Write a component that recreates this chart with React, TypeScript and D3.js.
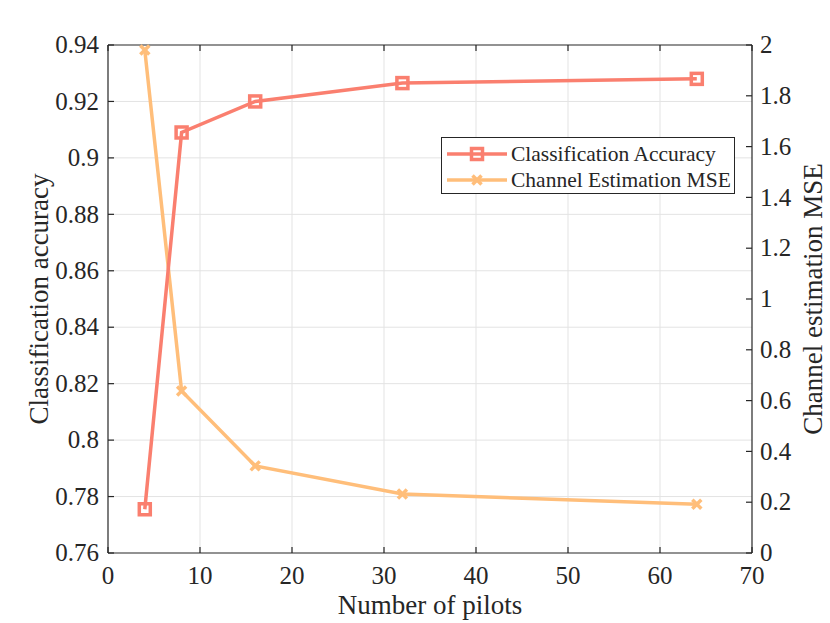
import * as d3 from "d3";

const pilots = [4, 8, 16, 32, 64];
const accuracy = [0.7755, 0.909, 0.92, 0.9265, 0.928];
const mse = [1.98, 0.638, 0.343, 0.232, 0.192];

const xTicks = [0, 10, 20, 30, 40, 50, 60, 70];
const leftTicks = [0.76, 0.78, 0.8, 0.82, 0.84, 0.86, 0.88, 0.9, 0.92, 0.94];
const rightTicks = [0, 0.2, 0.4, 0.6, 0.8, 1, 1.2, 1.4, 1.6, 1.8, 2];

const accColor = "#FA7F6F";
const mseColor = "#FFBE7A";
const axisColor = "#262626";
const font = "'Liberation Serif', 'Times New Roman', serif";

export default function App() {
  const width = 830;
  const height = 623;
  const marginLeft = 108;
  const marginRight = 78;
  const marginTop = 45;
  const marginBottom = 70;

  const x = d3.scaleLinear([0, 70], [marginLeft, width - marginRight]);
  const yL = d3.scaleLinear([0.76, 0.94], [height - marginBottom, marginTop]);
  const yR = d3.scaleLinear([0, 2], [height - marginBottom, marginTop]);

  const x0 = x(0);
  const x1 = x(70);
  const y0 = yL(0.76);
  const y1 = yL(0.94);

  const accLine = d3
    .line<number>()
    .x((_, i) => x(pilots[i]))
    .y((d) => yL(d));
  const mseLine = d3
    .line<number>()
    .x((_, i) => x(pilots[i]))
    .y((d) => yR(d));

  const tick = 6;
  const fmt = (v: number) => String(+v.toFixed(2));

  return (
    <svg
      width={width}
      height={height}
      style={{ position: "absolute", left: 0, top: 0, display: "block" }}
    >
      <rect width={width} height={height} fill="white" />
      {/* grid */}
      <g stroke="#e3e3e3" strokeWidth={1}>
        {xTicks.slice(1, -1).map((t) => (
          <line key={"gx" + t} x1={x(t)} x2={x(t)} y1={y0} y2={y1} />
        ))}
        {leftTicks.slice(1, -1).map((t) => (
          <line key={"gy" + t} x1={x0} x2={x1} y1={yL(t)} y2={yL(t)} />
        ))}
      </g>

      {/* axes box */}
      <g stroke={axisColor} strokeWidth={1.2} fill="none">
        <line x1={x0} x2={x1} y1={y0} y2={y0} />
        <line x1={x0} x2={x1} y1={y1} y2={y1} />
        <line x1={x0} x2={x0} y1={y0} y2={y1} />
        <line x1={x1} x2={x1} y1={y0} y2={y1} />
        {xTicks.map((t) => (
          <g key={"xt" + t}>
            <line x1={x(t)} x2={x(t)} y1={y0} y2={y0 - tick} />
            <line x1={x(t)} x2={x(t)} y1={y1} y2={y1 + tick} />
          </g>
        ))}
        {leftTicks.map((t) => (
          <line key={"lt" + t} x1={x0} x2={x0 + tick} y1={yL(t)} y2={yL(t)} />
        ))}
        {rightTicks.map((t) => (
          <line key={"rt" + t} x1={x1} x2={x1 - tick} y1={yR(t)} y2={yR(t)} />
        ))}
      </g>

      <g fontFamily={font} fontSize={25} fill={axisColor}>
        {xTicks.map((t) => (
          <text key={"xl" + t} x={x(t)} y={y0 + 31} textAnchor="middle">
            {t}
          </text>
        ))}
        {leftTicks.map((t) => (
          <text key={"ll" + t} x={x0 - 9} y={yL(t)} dy="0.33em" textAnchor="end">
            {fmt(t)}
          </text>
        ))}
        {rightTicks.map((t) => (
          <text key={"rl" + t} x={x1 + 8} y={yR(t)} dy="0.33em" textAnchor="start">
            {fmt(t)}
          </text>
        ))}
      </g>

      <g fontFamily={font} fontSize={27} fill={axisColor}>
        <text x={(x0 + x1) / 2} y={614} textAnchor="middle">
          Number of pilots
        </text>
        <text
          transform={`translate(48,${(y0 + y1) / 2}) rotate(-90)`}
          textAnchor="middle"
        >
          Classification accuracy
        </text>
        <text
          transform={`translate(822,${(y0 + y1) / 2}) rotate(-90)`}
          textAnchor="middle"
        >
          Channel estimation MSE
        </text>
      </g>

      {/* series */}
      <path d={mseLine(mse) ?? ""} fill="none" stroke={mseColor} strokeWidth={3.5} />
      {mse.map((d, i) => (
        <g key={"mm" + i} transform={`translate(${x(pilots[i])},${yR(d)})`} stroke={mseColor} strokeWidth={3.5}>
          <line x1={-4.5} y1={-4.5} x2={4.5} y2={4.5} />
          <line x1={-4.5} y1={4.5} x2={4.5} y2={-4.5} />
        </g>
      ))}
      <path d={accLine(accuracy) ?? ""} fill="none" stroke={accColor} strokeWidth={3.5} />
      {accuracy.map((d, i) => (
        <rect
          key={"am" + i}
          x={x(pilots[i]) - 5.5}
          y={yL(d) - 5.5}
          width={11}
          height={11}
          fill="none"
          stroke={accColor}
          strokeWidth={3.5}
        />
      ))}

      {/* legend */}
      <g>
        <rect x={441.5} y={137.5} width={293} height={56} fill="white" stroke={axisColor} strokeWidth={1} />
        <line x1={447} x2={507} y1={154} y2={154} stroke={accColor} strokeWidth={3.5} />
        <rect x={471.5} y={148.5} width={11} height={11} fill="none" stroke={accColor} strokeWidth={3.5} />
        <line x1={447} x2={507} y1={180} y2={180} stroke={mseColor} strokeWidth={3.5} />
        <g transform="translate(477,180)" stroke={mseColor} strokeWidth={3.5}>
          <line x1={-4.5} y1={-4.5} x2={4.5} y2={4.5} />
          <line x1={-4.5} y1={4.5} x2={4.5} y2={-4.5} />
        </g>
        <g fontFamily={font} fontSize={21.5} fill={axisColor}>
          <text x={511} y={154} dy="0.33em">
            Classification Accuracy
          </text>
          <text x={511} y={180} dy="0.33em">
            Channel Estimation MSE
          </text>
        </g>
      </g>
    </svg>
  );
}
